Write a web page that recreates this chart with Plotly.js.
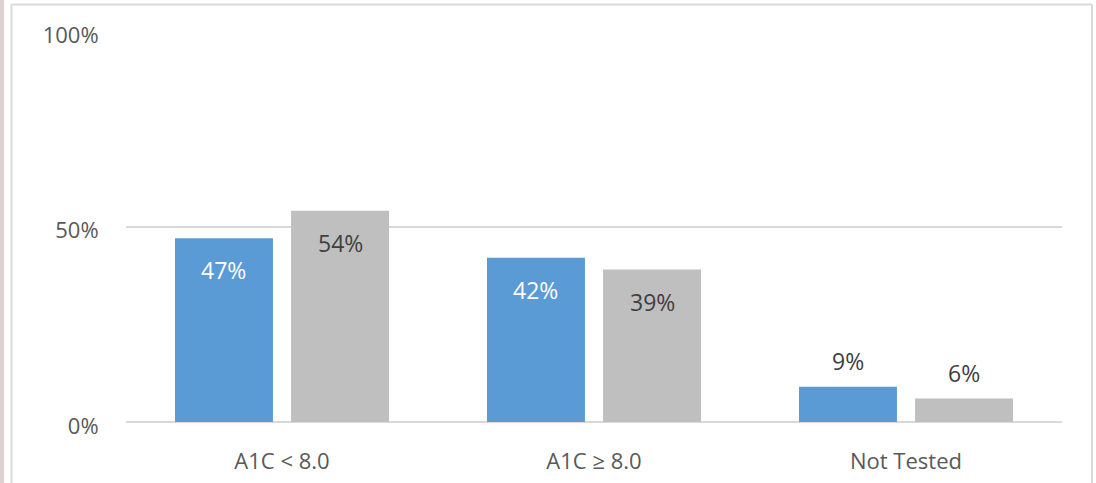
<!DOCTYPE html>
<html><head><meta charset="utf-8">
<script src="https://cdn.plot.ly/plotly-3.0.1.min.js"></script>
<style>html,body{margin:0;padding:0;background:#fff;}#chart{width:1096px;height:483px;}</style>
</head><body><div id="chart"></div>
<script>
const categories = ["A1C < 8.0", "A1C \u2265 8.0", "Not Tested"];
const seriesA = [47, 42, 9];
const seriesB = [54, 39, 6];
const yTicks = [0, 50, 100];
const yTickLabels = ["0%", "50%", "100%"];

const W = 0.314, offA = -0.343, offB = 0.029;
const FONT = "'Open Sans', Lato, sans-serif";

function bar(vals, color, off){
  return {type:'bar', x:categories, y:vals, width:W, offset:off,
    marker:{color:color}, hoverinfo:'none', showlegend:false};
}
const traces = [bar(seriesA, '#5b9bd5', offA), bar(seriesB, '#bfbfbf', offB)];

const annotations = [];
function labels(vals, off, insideColor){
  vals.forEach((v,i)=>{
    const inside = v >= 20;
    annotations.push({x: i + off + W/2, y: v, xref:'x', yref:'y', text: v + '%',
      showarrow:false, yanchor:'middle', yshift: inside ? -32 : 26,
      font:{family:FONT, size:23, color: inside ? insideColor : '#404040'}});
  });
}
labels(seriesA, offA, '#ffffff');
labels(seriesB, offB, '#404040');

const px = p => (p-126)/936, py = p => (422-p)/391;
const shapes = [
  {type:'rect', xref:'paper', yref:'paper', x0:px(0), x1:px(4), y0:py(483), y1:py(0), fillcolor:'#ddd0d1', line:{width:0}, layer:'below'},
  {type:'line', xref:'paper', yref:'paper', x0:px(11.5), x1:px(11.5), y0:py(4.5), y1:py(490), line:{color:'#d9d9d9', width:2}, layer:'below'},
  {type:'line', xref:'paper', yref:'paper', x0:px(11.5), x1:px(1092), y0:py(4.5), y1:py(4.5), line:{color:'#d9d9d9', width:2}, layer:'below'},
  {type:'line', xref:'paper', yref:'paper', x0:px(1092), x1:px(1092), y0:py(4.5), y1:py(490), line:{color:'#d9d9d9', width:2}, layer:'below'}
];

const layout = {
  width:1096, height:483,
  margin:{l:126, r:34, t:31, b:61},
  paper_bgcolor:'#ffffff', plot_bgcolor:'#ffffff',
  font:{family:FONT, size:22, color:'#595959'},
  xaxis:{type:'category', range:[-0.5, 2.5], showgrid:false, zeroline:false, showline:false,
    ticks:'outside', ticklen:20, tickcolor:'rgba(0,0,0,0)', tickfont:{family:FONT, size:22, color:'#595959'}},
  yaxis:{range:[0,100], tickvals:yTicks, ticktext:yTickLabels, showgrid:true, gridcolor:'#d9d9d9', gridwidth:2,
    zeroline:true, zerolinecolor:'#d9d9d9', zerolinewidth:2, showline:false, ticklabelshift:4,
    ticks:'outside', ticklen:22, tickcolor:'rgba(0,0,0,0)', tickfont:{family:FONT, size:22, color:'#595959'}},
  annotations:annotations, shapes:shapes, showlegend:false
};
Plotly.newPlot('chart', traces, layout, {displayModeBar:false, staticPlot:true});
</script></body></html>
